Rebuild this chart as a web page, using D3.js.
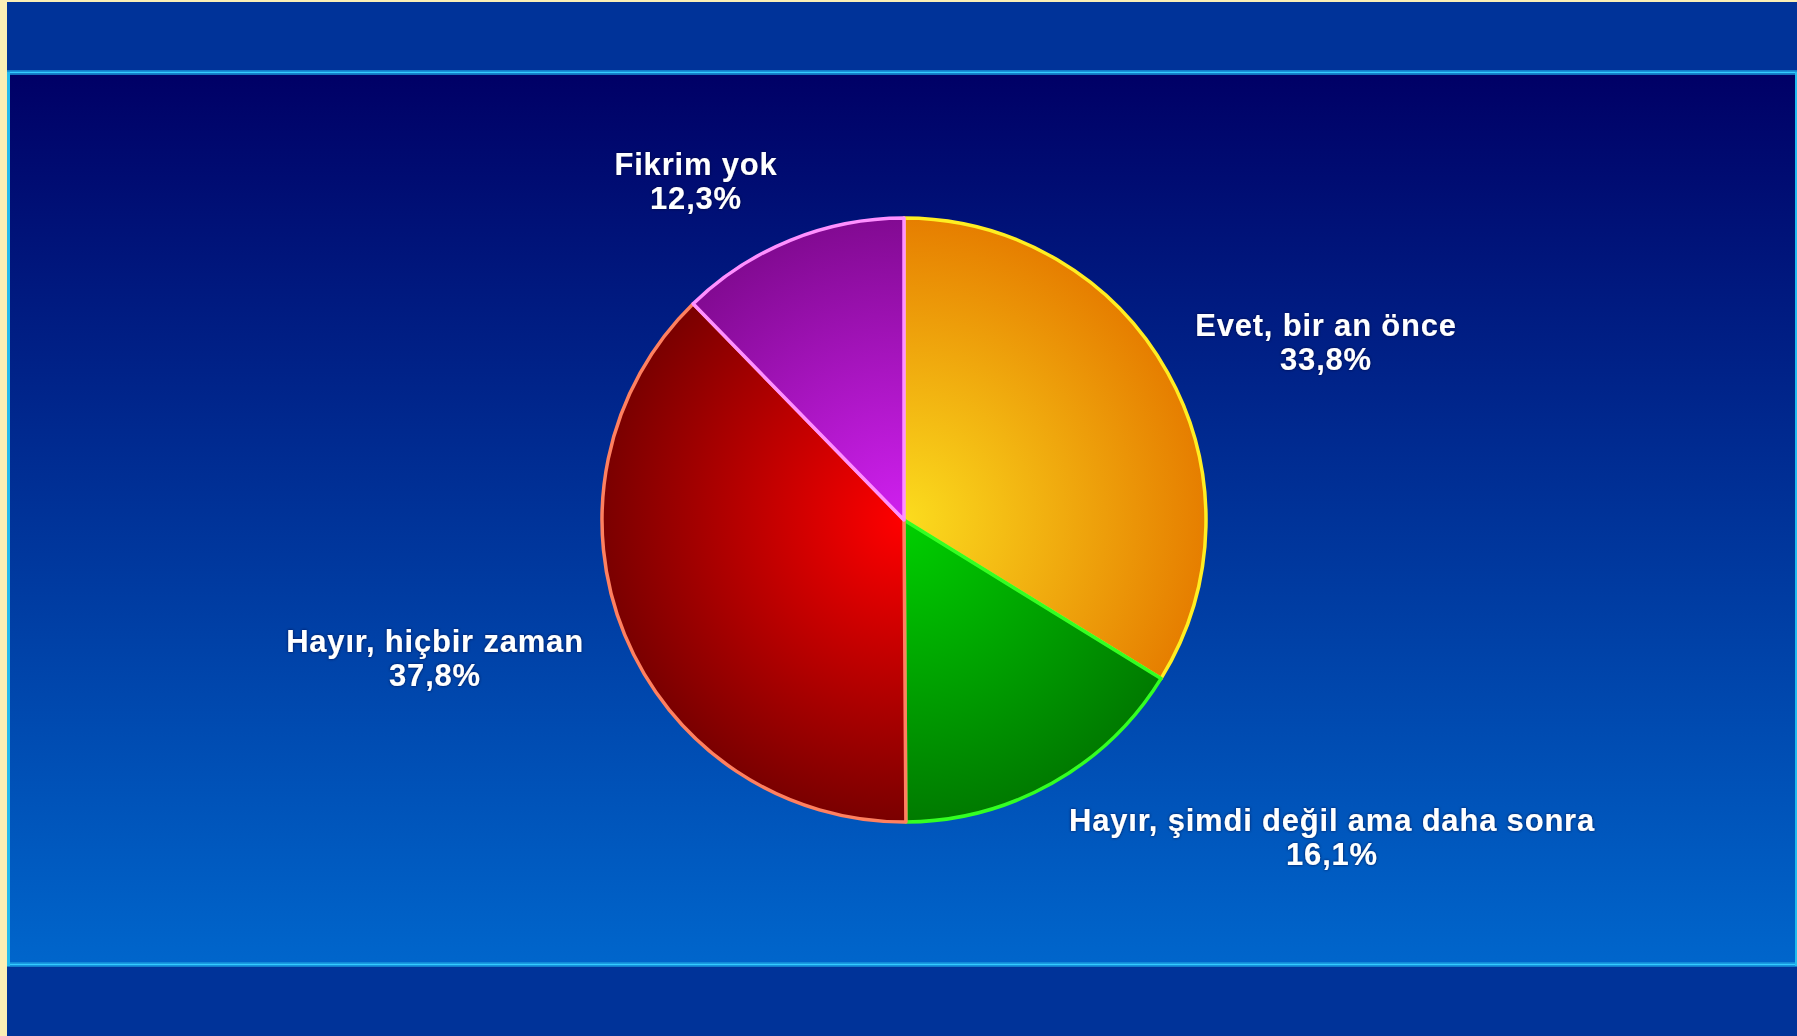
<!DOCTYPE html>
<html>
<head>
<meta charset="utf-8">
<script src="https://cdn.jsdelivr.net/npm/d3@7"></script>
<style>
html,body{margin:0;padding:0;background:#fbefb5;overflow:hidden;}
svg{display:block;}
</style>
</head>
<body>
<svg id="chart" width="1797" height="1036"></svg>
<script>
// ---- data ----
const categories = ["Evet, bir an önce", "Hayır, şimdi değil ama daha sonra", "Hayır, hiçbir zaman", "Fikrim yok"];
const values = [33.8, 16.1, 37.8, 12.3];
const valueLabels = ["33,8%", "16,1%", "37,8%", "12,3%"];

// ---- styling / layout ----
const innerColors = ["#fbdc1e", "#00d000", "#ff0000", "#d020f0"];
const outerColors = ["#e67e00", "#007a00", "#7a0000", "#820a92"];
const strokeColors = ["#ffee22", "#33ff22", "#ff8060", "#ff90ff"];
// label offsets (first-line baseline) relative to the pie centre (layout only)
const labelOffsets = [[422, -184], [428, 311], [-469, 132], [-208, -345]];

const W = 1797, H = 1036;
const svg = d3.select("#chart");
const defs = svg.append("defs");

// background
const bg = defs.append("linearGradient").attr("id", "panelGrad")
  .attr("x1", 0).attr("y1", 0).attr("x2", 0).attr("y2", 1);
bg.append("stop").attr("offset", "0%").attr("stop-color", "#000066");
bg.append("stop").attr("offset", "100%").attr("stop-color", "#0066cc");

svg.append("rect").attr("x", 0).attr("y", 0).attr("width", W).attr("height", H).attr("fill", "#fbefb5");
svg.append("rect").attr("x", 7).attr("y", 2).attr("width", W - 7).attr("height", H - 2).attr("fill", "#003399");
svg.append("rect").attr("x", 7).attr("y", 73).attr("width", W - 7).attr("height", 893).attr("fill", "url(#panelGrad)");

// cyan frame lines
const frame = svg.append("g");
[[71, "#1a99dd"], [72.5, "#33ccff"], [74, "#1a99dd"]].forEach(([y, c]) => {
  frame.append("line").attr("x1", 7).attr("x2", W).attr("y1", y).attr("y2", y).attr("stroke", c).attr("stroke-width", 1.6);
});
[[963, "#1a99dd"], [964.5, "#33ccff"], [966, "#1a99dd"]].forEach(([y, c]) => {
  frame.append("line").attr("x1", 7).attr("x2", W).attr("y1", y).attr("y2", y).attr("stroke", c).attr("stroke-width", 1.6);
});
frame.append("line").attr("x1", 8.5).attr("x2", 8.5).attr("y1", 72).attr("y2", 966).attr("stroke", "#22bbee").attr("stroke-width", 3);
frame.append("line").attr("x1", W - 1).attr("x2", W - 1).attr("y1", 72).attr("y2", 966).attr("stroke", "#22bbee").attr("stroke-width", 2);

// pie
const cx = 904, cy = 520, R = 302;
const pie = d3.pie().sort(null).value(d => d)(values);
const arc = d3.arc().innerRadius(0).outerRadius(R);

innerColors.forEach((c, i) => {
  const g = defs.append("radialGradient").attr("id", "sg" + i)
    .attr("gradientUnits", "userSpaceOnUse")
    .attr("cx", 0).attr("cy", 0).attr("r", R);
  g.append("stop").attr("offset", "0%").attr("stop-color", c);
  g.append("stop").attr("offset", "100%").attr("stop-color", outerColors[i]);
});

const pg = svg.append("g").attr("transform", `translate(${cx},${cy})`);
pg.selectAll("path.slice").data(pie).enter().append("path")
  .attr("class", "slice")
  .attr("d", arc)
  .attr("fill", (d, i) => `url(#sg${i})`)
  .attr("stroke", (d, i) => strokeColors[i])
  .attr("stroke-width", 3.5)
  .attr("stroke-linejoin", "round");

// text shadow
const f = defs.append("filter").attr("id", "glow").attr("x", "-10%").attr("y", "-30%").attr("width", "120%").attr("height", "160%");
f.append("feGaussianBlur").attr("in", "SourceAlpha").attr("stdDeviation", 1.5).attr("result", "b");
f.append("feFlood").attr("flood-color", "#000033").attr("flood-opacity", 0.8);
f.append("feComposite").attr("in2", "b").attr("operator", "in").attr("result", "s");
const m = f.append("feMerge");
m.append("feMergeNode").attr("in", "s");
m.append("feMergeNode").attr("in", "SourceGraphic");

const lg = pg.selectAll("g.lbl").data(pie).enter().append("g")
  .attr("class", "lbl")
  .attr("transform", (d, i) => `translate(${labelOffsets[i][0]},${labelOffsets[i][1]})`)
  .attr("filter", "url(#glow)");
lg.append("text")
  .attr("text-anchor", "middle")
  .attr("font-family", "'Liberation Sans', Arial, sans-serif")
  .attr("font-weight", "bold")
  .attr("font-size", 31)
  .attr("letter-spacing", 0.8)
  .attr("fill", "#ffffff")
  .each(function(d, i) {
    const t = d3.select(this);
    t.append("tspan").attr("x", 0).attr("y", 0).text(categories[i]);
    t.append("tspan").attr("x", 0).attr("y", 34).text(valueLabels[i]);
  });
</script>
</body>
</html>
